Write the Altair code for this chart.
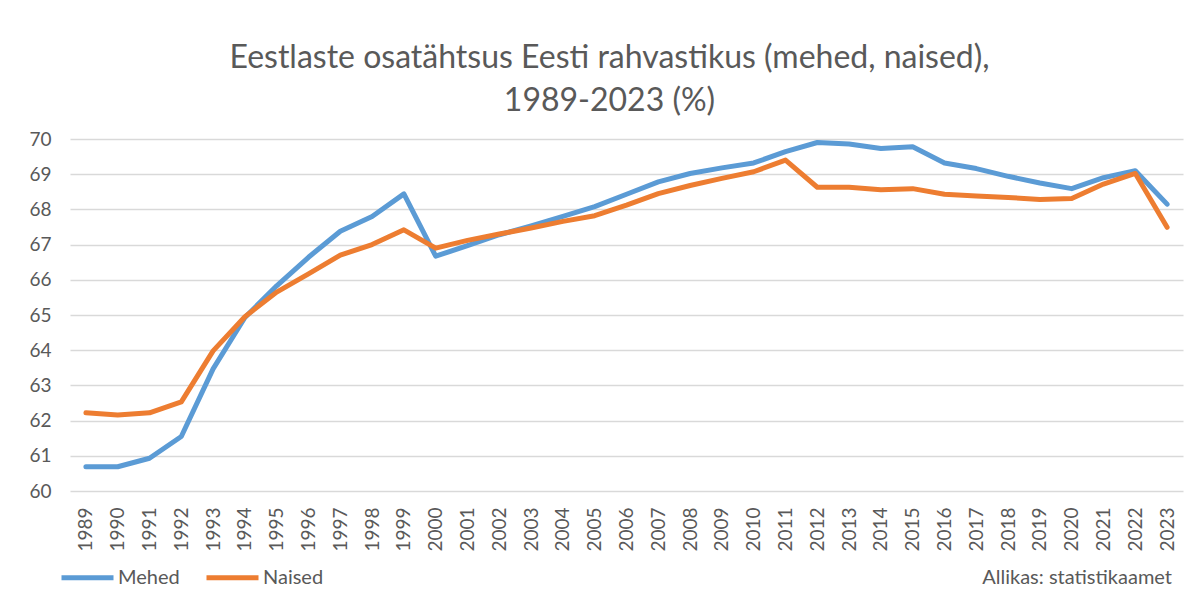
import altair as alt
import pandas as pd

years = ["1989", "1990", "1991", "1992", "1993", "1994", "1995", "1996", "1997", "1998",
         "1999", "2000", "2001", "2002", "2003", "2004", "2005", "2006", "2007", "2008",
         "2009", "2010", "2011", "2012", "2013", "2014", "2015", "2016", "2017", "2018",
         "2019", "2020", "2021", "2022", "2023"]
mehed = [60.69, 60.69, 60.93, 61.55, 63.47, 64.93, 65.83, 66.64, 67.38, 67.80,
         68.44, 66.67, 66.97, 67.28, 67.53, 67.80, 68.08, 68.43, 68.78, 69.02,
         69.18, 69.32, 69.64, 69.90, 69.86, 69.73, 69.78, 69.32, 69.16, 68.94,
         68.75, 68.59, 68.90, 69.10, 68.15]
naised = [62.22, 62.16, 62.22, 62.53, 63.98, 64.95, 65.65, 66.17, 66.70, 67.00,
          67.42, 66.90, 67.12, 67.30, 67.47, 67.66, 67.82, 68.12, 68.45, 68.68,
          68.88, 69.07, 69.40, 68.63, 68.63, 68.56, 68.59, 68.43, 68.38, 68.34,
          68.28, 68.31, 68.72, 69.02, 67.49]
series_names = ["Mehed", "Naised"]
series_colors = ["#5B9BD5", "#ED7D31"]
title_lines = ["Eestlaste osatähtsus Eesti rahvastikus (mehed, naised),", "1989-2023 (%)"]
source_text = "Allikas: statistikaamet"

rows = []
for name, vals in zip(series_names, [mehed, naised]):
    for y, v in zip(years, vals):
        rows.append({"aasta": y, "väärtus": v, "sugu": name})
df = pd.DataFrame(rows)

FONT = "Lato"
GRAY = "#595959"

lines = alt.Chart(df).mark_line(strokeWidth=5, strokeCap="round", strokeJoin="round").encode(
    x=alt.X("aasta:O", sort=years,
            scale=alt.Scale(type="point", padding=0.5),
            axis=alt.Axis(title=None, labelAngle=270, labelAlign="right", labelBaseline="middle",
                          labelFontSize=19, labelColor=GRAY, labelFont=FONT, labelPadding=16,
                          ticks=False, domain=False, grid=False)),
    y=alt.Y("väärtus:Q", scale=alt.Scale(domain=[60, 70], nice=False, zero=False),
            axis=alt.Axis(title=None, values=list(range(60, 71)), labelFontSize=19,
                          labelColor=GRAY, labelFont=FONT, labelPadding=19, ticks=False,
                          domain=False, grid=True, gridColor="#D9D9D9", gridWidth=1.5)),
    color=alt.Color("sugu:N", sort=series_names,
                    scale=alt.Scale(domain=series_names, range=series_colors),
                    legend=alt.Legend(title=None, orient="none", direction="horizontal",
                                      legendX=-11, legendY=410, symbolType="stroke",
                                      symbolSize=2704, symbolStrokeWidth=5,
                                      labelFontSize=20, labelColor=GRAY, labelFont=FONT,
                                      labelOffset=2, columnPadding=16)),
)

src = alt.Chart(pd.DataFrame({"t": [source_text]})).mark_text(
    align="right", baseline="middle", fontSize=20, color=GRAY, font=FONT
).encode(x=alt.value(1102), y=alt.value(439), text="t:N")

chart = alt.layer(lines, src).properties(
    width=1113, height=352,
    padding={"left": 62, "top": 131, "right": 9, "bottom": 100},
    autosize=alt.AutoSizeParams(type="none"),
    title=alt.TitleParams(text=title_lines, fontSize=32, fontWeight="normal", color=GRAY,
                          font=FONT, anchor="middle", dx=-17, offset=12, lineHeight=43),
).configure_view(stroke=None)

chart.save("out.html", embed_options={"renderer": "svg", "actions": False})
